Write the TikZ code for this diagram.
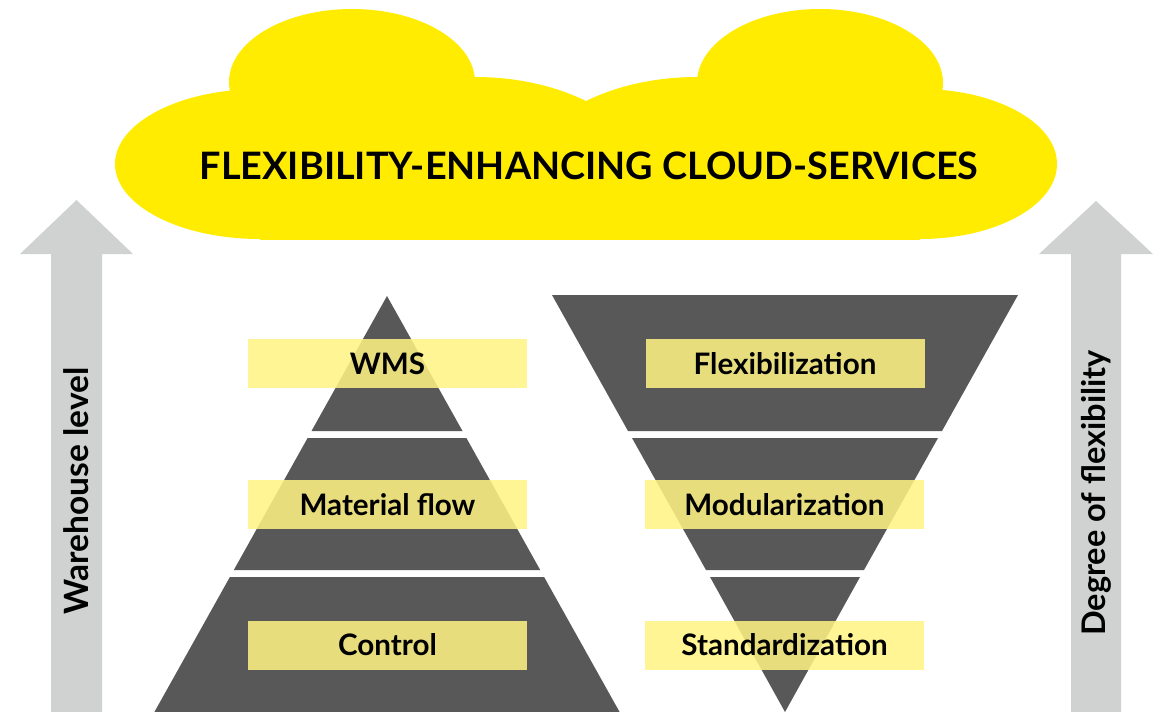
\documentclass[tikz,border=0pt]{standalone}
\usepackage{fontspec}
\setmainfont{Lato}
\definecolor{cloudyel}{RGB}{255,236,0}
\definecolor{arrowgrey}{RGB}{208,209,209}
\definecolor{pyrgrey}{RGB}{87,88,87}
\definecolor{labelyel}{RGB}{255,243,132}
\begin{document}
\begin{tikzpicture}[x=1pt,y=-1pt,
  lab/.style={fill=labelyel, fill opacity=0.86, text opacity=1, minimum width=279pt,
    minimum height=49pt, inner sep=0pt, font=\bfseries\fontsize{29.6}{31}\selectfont,
    text height=21pt, text depth=0pt, text=black},
  sidetext/.style={rotate=90, inner sep=0pt, text=black}]
\useasboundingbox (0,0) rectangle (1160,712);
% arrows
\fill[arrowgrey] (51,712) -- (51,254) -- (20,254) -- (76.5,200) -- (133,254) -- (102,254) -- (102,712) -- cycle;
\fill[arrowgrey] (1071,712) -- (1071,254) -- (1039,254) -- (1096,201) -- (1153,254) -- (1121,254) -- (1121,712) -- cycle;
% cloud
\begin{scope}
\clip (0,0) rectangle (1160,239.5);
\fill[cloudyel] (260,164) ellipse [x radius=145pt, y radius=75pt];
\fill[cloudyel] (920,164) ellipse [x radius=137pt, y radius=75pt];
\fill[cloudyel] (352,82) ellipse [x radius=123pt, y radius=73pt];
\fill[cloudyel] (820,83) ellipse [x radius=123pt, y radius=74pt];
\fill[cloudyel] (475,190) ellipse [x radius=180pt, y radius=113pt];
\fill[cloudyel] (697,190) ellipse [x radius=180pt, y radius=113pt];
\fill[cloudyel] (260,110) rectangle (920,239.5);
\end{scope}
\node[font=\bfseries\fontsize{37.8}{40}\selectfont, inner sep=0pt, text height=26.5pt, text depth=0pt] (cloudtext) at (589,166) {FLEXIBILITY-ENHANCING CLOUD-SERVICES};
% left pyramid
\fill[pyrgrey] (387,296) -- (311.5,431) -- (462.5,431) -- cycle;
\fill[pyrgrey] (307.6,438) -- (466.4,438) -- (540.2,570) -- (233.8,570) -- cycle;
\fill[pyrgrey] (229.9,577) -- (544.1,577) -- (619.6,712) -- (154.4,712) -- cycle;
% right inverted pyramid
\fill[pyrgrey] (552,295) -- (1018,295) -- (942,431) -- (628,431) -- cycle;
\fill[pyrgrey] (632,438) -- (938,438) -- (864,570) -- (706,570) -- cycle;
\fill[pyrgrey] (710,577) -- (860,577) -- (785,712) -- cycle;
% labels
\node[lab] (wms) at (387.5,363.5) {WMS};
\node[lab] (matflow) at (387.5,504.5) {Material flow};
\node[lab] (control) at (387.5,645) {Control};
\node[lab] (flex) at (785,363.5) {Flexibilization};
\node[lab] (modul) at (784.5,504.5) {Modularization};
\node[lab] (stand) at (784.5,645) {Standardization};
% side texts
\node[sidetext, font=\bfseries\fontsize{33.5}{35}\selectfont] (warehouse) at (76.5,491) {Warehouse level};
\node[sidetext, font=\bfseries\fontsize{32.5}{35}\selectfont] (degree) at (1096,493) {Degree of flexibility};
\end{tikzpicture}
\end{document}
